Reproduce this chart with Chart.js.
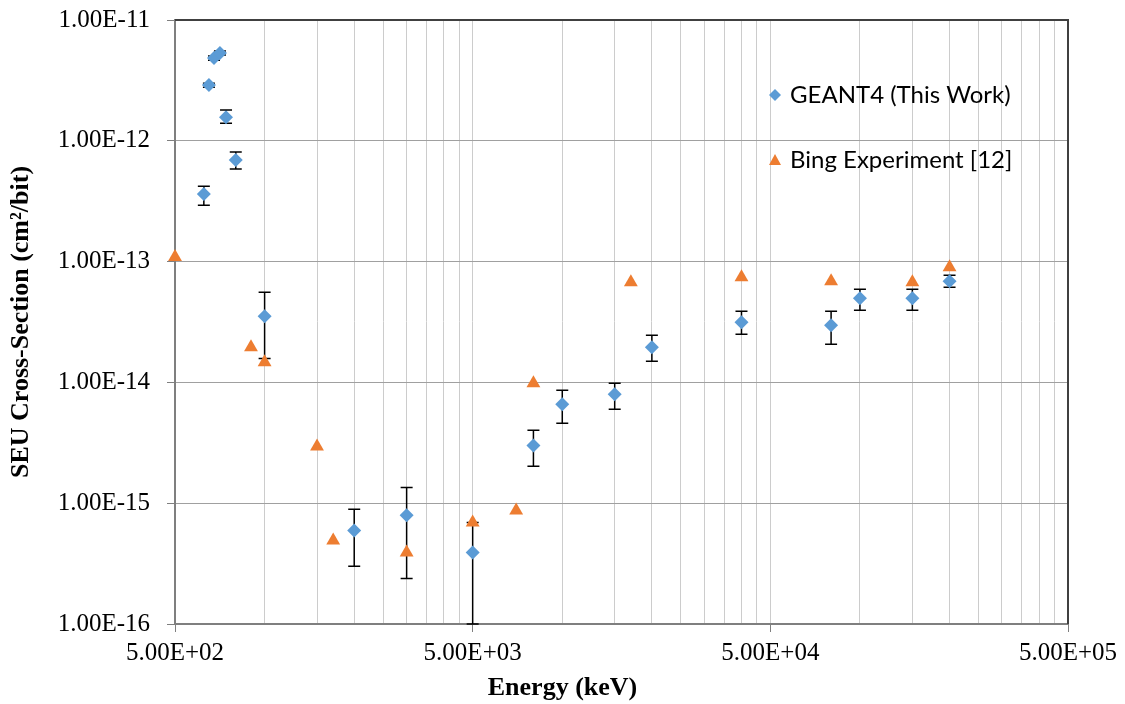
<!DOCTYPE html>
<html>
<head>
<meta charset="utf-8">
<script src="https://cdn.jsdelivr.net/npm/chart.js@4.4.1/dist/chart.umd.min.js"></script>
<style>
  html, body { margin: 0; padding: 0; background: #fff; }
  #wrap { width: 1125px; height: 704px; }
</style>
</head>
<body>
<div id="wrap"><canvas id="seuChart" width="1125" height="704"></canvas></div>
<script>
// --- data ---
const geantEnergy = [625, 650, 676, 708, 742, 800, 1000, 2000, 3000, 5000, 8000, 10000, 15000, 20000, 40000, 80000, 100000, 150000, 200000];
const geantSeu    = [3.62e-13, 2.89e-12, 4.84e-12, 5.33e-12, 1.57e-12, 6.92e-13, 3.53e-14, 5.95e-16, 7.93e-16, 3.91e-16, 3.01e-15, 6.58e-15, 7.97e-15, 1.95e-14, 3.15e-14, 2.97e-14, 4.97e-14, 4.97e-14, 6.88e-14];
const geantErrHi  = [4.2e-13, 3.0e-12, 5.03e-12, 5.54e-12, 1.8e-12, 8.06e-13, 5.58e-14, 8.89e-16, 1.35e-15, 6.93e-16, 4.01e-15, 8.6e-15, 9.83e-15, 2.46e-14, 3.88e-14, 3.88e-14, 5.9e-14, 5.9e-14, 7.71e-14];
const geantErrLo  = [2.93e-13, 2.78e-12, 4.65e-12, 5.12e-12, 1.4e-12, 5.83e-13, 1.58e-14, 3.0e-16, 2.38e-16, 1.0e-16, 2.02e-15, 4.58e-15, 5.99e-15, 1.5e-14, 2.5e-14, 2.07e-14, 3.96e-14, 3.96e-14, 6.14e-14];

const bingEnergy = [500, 900, 1000, 1500, 1700, 3000, 5000, 7000, 8000, 17000, 40000, 80000, 150000, 200000];
const bingSeu    = [1.09e-13, 1.95e-14, 1.47e-14, 2.95e-15, 4.92e-16, 3.91e-16, 6.93e-16, 8.72e-16, 9.83e-15, 6.75e-14, 7.43e-14, 6.88e-14, 6.75e-14, 8.99e-14];

const xMajorTicks = [500, 5000, 50000, 500000];
const yTicks = [1e-16, 1e-15, 1e-14, 1e-13, 1e-12, 1e-11];

const blue = '#5B9BD5';
const orange = '#ED7D31';

// Excel style "5.00E+02"
function sci(v) {
    const parts = v.toExponential(2).split('e');
    const n = parseInt(parts[1], 10);
    return parts[0] + 'E' + (n < 0 ? '-' : '+') + String(Math.abs(n)).padStart(2, '0');
}

// minor gridlines at 500*k for every decade
const xGridValues = [];
xMajorTicks.forEach((m, i) => {
    if (i === xMajorTicks.length - 1) { xGridValues.push(m); return; }
    for (let k = 1; k < 10; k++) xGridValues.push(m * k);
});
const isMajorX = v => xMajorTicks.some(m => Math.abs(m - v) / m < 1e-6);

// --- error bars under the GEANT4 markers ---
const errorBars = {
    id: 'errorBars',
    beforeDatasetsDraw(chart) {
        const { ctx, scales: { x, y } } = chart;
        ctx.save();
        ctx.strokeStyle = '#000';
        ctx.lineWidth = 1.5;
        geantEnergy.forEach((e, i) => {
            const px = x.getPixelForValue(e);
            const hi = y.getPixelForValue(Math.min(geantErrHi[i], y.max));
            const lo = y.getPixelForValue(Math.max(geantErrLo[i], y.min));
            ctx.beginPath();
            ctx.moveTo(px, hi); ctx.lineTo(px, lo);
            ctx.moveTo(px - 6, hi); ctx.lineTo(px + 6, hi);
            ctx.moveTo(px - 6, lo); ctx.lineTo(px + 6, lo);
            ctx.stroke();
        });
        // dark frame on top and right
        const a = chart.chartArea;
        ctx.strokeStyle = '#404040';
        ctx.lineWidth = 2;
        ctx.beginPath();
        ctx.moveTo(a.left, a.top); ctx.lineTo(a.right, a.top); ctx.lineTo(a.right, a.bottom);
        ctx.stroke();
        ctx.restore();
    }
};

// --- legend inside the plot + x title centred on the page ---
const extras = {
    id: 'extras',
    afterDraw(chart) {
        const { ctx } = chart;
        ctx.save();
        ctx.textBaseline = 'middle';
        ctx.textAlign = 'left';
        ctx.font = '24px Lato';
        ctx.fillStyle = '#000';
        const rows = [95, 160];
        chart.data.datasets.forEach((ds, i) => {
            const cy = rows[i];
            ctx.fillStyle = ds.backgroundColor;
            ctx.beginPath();
            if (ds.pointStyle === 'rectRot') {
                ctx.moveTo(775, cy - 6); ctx.lineTo(781, cy); ctx.lineTo(775, cy + 6); ctx.lineTo(769, cy);
            } else {
                ctx.moveTo(775, cy - 6); ctx.lineTo(781, cy + 5); ctx.lineTo(769, cy + 5);
            }
            ctx.closePath();
            ctx.fill();
            ctx.fillStyle = '#000';
            ctx.fillText(ds.label, 790, cy);
        });
        ctx.font = 'bold 26px "Liberation Serif"';
        ctx.textAlign = 'center';
        ctx.fillText('Energy (keV)', chart.width / 2, 688);
        ctx.restore();
    }
};

new Chart(document.getElementById('seuChart'), {
    type: 'scatter',
    data: {
        datasets: [
            {
                label: 'GEANT4 (This Work)',
                data: geantEnergy.map((e, i) => ({ x: e, y: geantSeu[i] })),
                backgroundColor: blue,
                borderColor: blue,
                pointStyle: 'rectRot',
                pointRadius: 7,
                pointHoverRadius: 7,
                borderWidth: 0,
                order: 1,
                clip: false
            },
            {
                label: 'Bing Experiment [12]',
                data: bingEnergy.map((e, i) => ({ x: e, y: bingSeu[i] })),
                backgroundColor: orange,
                borderColor: orange,
                pointStyle: 'triangle',
                pointRadius: 8,
                pointHoverRadius: 8,
                borderWidth: 0,
                order: 0,
                clip: false
            }
        ]
    },
    options: {
        responsive: false,
        animation: false,
        devicePixelRatio: 1,
        layout: { padding: { left: 0, top: 20, right: 57, bottom: 0 } },
        plugins: { legend: { display: false }, tooltip: { enabled: false } },
        scales: {
            x: {
                type: 'logarithmic',
                min: 500,
                max: 500000,
                afterBuildTicks: s => { s.ticks = xGridValues.map(v => ({ value: v })); },
                afterFit: s => { s.height = 80; },
                ticks: {
                    autoSkip: false,
                    maxRotation: 0,
                    padding: 6,
                    color: '#000',
                    font: { family: 'Liberation Serif', size: 25 },
                    callback: v => isMajorX(v) ? sci(v) : ''
                },
                grid: {
                    color: '#cccccc',
                    lineWidth: 1,
                    tickLength: 8,
                    tickColor: c => (c.tick && isMajorX(c.tick.value)) ? '#7f7f7f' : 'rgba(0,0,0,0)'
                },
                border: { color: '#7f7f7f', width: 2 }
            },
            y: {
                type: 'logarithmic',
                min: 1e-16,
                max: 1e-11,
                afterBuildTicks: s => { s.ticks = yTicks.map(v => ({ value: v })); },
                afterFit: s => { s.width = 175; s.paddingTop = 0; s.paddingBottom = 0; },
                ticks: {
                    padding: 17,
                    color: '#000',
                    font: { family: 'Liberation Serif', size: 25 },
                    callback: v => sci(v)
                },
                grid: {
                    color: '#a0a0a0',
                    lineWidth: 1,
                    tickLength: 8,
                    tickColor: '#7f7f7f'
                },
                border: { color: '#7f7f7f', width: 2 },
                title: {
                    display: true,
                    text: 'SEU Cross-Section (cm²/bit)',
                    color: '#000',
                    font: { family: 'Liberation Serif', size: 26, weight: 'bold' },
                    padding: { top: 6, bottom: 0 }
                }
            }
        }
    },
    plugins: [errorBars, extras]
});
</script>
</body>
</html>
